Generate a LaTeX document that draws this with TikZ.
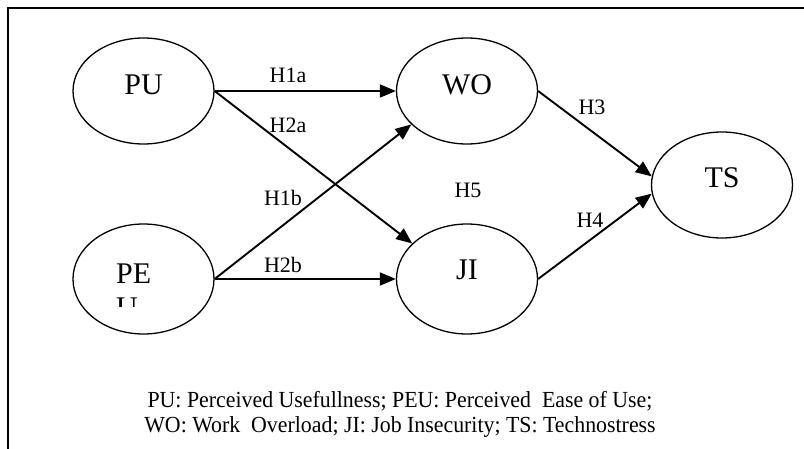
\documentclass[tikz,border=0pt]{standalone}
\usepackage{fontspec}
\setmainfont{Liberation Serif}
\newfontfamily\captionfont[FakeStretch=0.95]{Liberation Serif}
\usetikzlibrary{arrows.meta,shapes.geometric}
\begin{document}
\begin{tikzpicture}[x=1pt,y=-1pt,
  construct/.style={draw, ellipse, line width=1.3pt, minimum width=141pt, minimum height=106pt, inner sep=0pt},
  nodetext/.style={font=\fontsize{30}{34}\selectfont, inner sep=0pt},
  hlabel/.style={font=\fontsize{22}{24}\selectfont, inner sep=0pt},
  link/.style={line width=1.9pt, -{Triangle[length=16pt,width=13pt]}}
]
\useasboundingbox (0,0) rectangle (804,449);
\draw[line width=1.6pt] (8,449) -- (8,8) -- (804,8);

% constructs
\node[construct] (pu) at (143.5,91) {};
\node[construct, minimum height=110pt] (peu) at (143.5,279) {};
\node[construct] (wo) at (467,91) {};
\node[construct, minimum height=110pt] (ji) at (467,279) {};
\node[construct] (ts) at (722,185) {};

\node[nodetext] (put) at (143.5,85) {PU};
\node[nodetext] (wot) at (467,85) {WO};
\node[nodetext] (jit) at (467,270) {JI};
\node[nodetext] (tst) at (722,178) {TS};
\node[nodetext, anchor=base west] (peut) at (116,284) {PE};
\begin{scope}
  \clip (100,290) rectangle (200,307);
  \node[nodetext, anchor=base west] (peuu) at (116,318) {U};
\end{scope}

% connectors
\draw[link] (pu.east) -- (wo.west);
\draw[link] (pu.east) -- (ji.147);
\draw[link] (peu.east) -- (wo.211);
\draw[link] (peu.east) -- (ji.west);
\draw[link] (wo.east) -- (ts.173);
\draw[link] (ji.east) -- (ts.187);

% labels
\node[hlabel] (h1a) at (288,75) {H1a};
\node[hlabel] (h2a) at (288,125) {H2a};
\node[hlabel] (h1b) at (283,198) {H1b};
\node[hlabel] (h2b) at (283,265) {H2b};
\node[hlabel] (h3) at (592,107) {H3};
\node[hlabel] (h4) at (590,220) {H4};
\node[hlabel] (h5) at (468,190) {H5};

% caption
\node[font=\captionfont\fontsize{23}{25}\selectfont, align=center, inner sep=0pt] (cap) at (400,414)
  {PU: Perceived Usefullness; PEU: Perceived \ Ease of Use;\\
   WO: Work \ Overload; JI: Job Insecurity; TS: Technostress};
\end{tikzpicture}
\end{document}
